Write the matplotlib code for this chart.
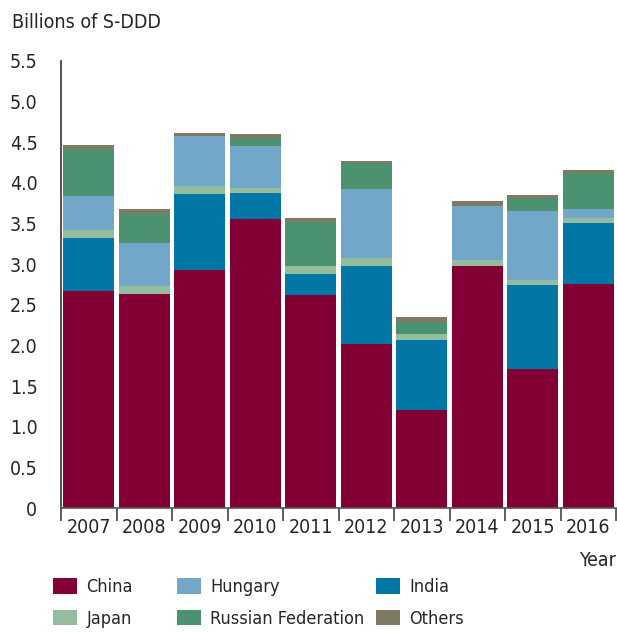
import numpy as np
import matplotlib
matplotlib.use("Agg")
import matplotlib.pyplot as plt
from matplotlib.patches import Patch

plt.rcParams['font.family'] = ['DejaVu Sans']
plt.rcParams['font.stretch'] = 'condensed'

years = ["2007", "2008", "2009", "2010", "2011", "2012", "2013", "2014", "2015", "2016"]
china = [2.67, 2.63, 2.93, 3.55, 2.62, 2.02, 1.21, 2.98, 1.71, 2.76]
india = [0.65, 0.00, 0.93, 0.32, 0.26, 0.96, 0.86, 0.00, 1.03, 0.75]
japan = [0.10, 0.10, 0.10, 0.07, 0.10, 0.10, 0.07, 0.07, 0.06, 0.06]
hungary = [0.42, 0.53, 0.62, 0.51, 0.00, 0.84, 0.00, 0.66, 0.85, 0.11]
russia = [0.58, 0.36, 0.00, 0.10, 0.54, 0.32, 0.15, 0.00, 0.17, 0.44]
others = [0.05, 0.06, 0.03, 0.05, 0.05, 0.03, 0.06, 0.07, 0.03, 0.04]

# stacking order bottom -> top
series = [
    ("China", china, "#820033"),
    ("India", india, "#0277A6"),
    ("Japan", japan, "#94BD9F"),
    ("Hungary", hungary, "#72A7CA"),
    ("Russian Federation", russia, "#4A9270"),
    ("Others", others, "#807A62"),
]
colors = {name: c for name, _, c in series}
txt = "#262626"

fig = plt.figure(figsize=(6.17, 6.33), dpi=100)
ax = fig.add_axes([61 / 617, 1 - 508 / 633, 555 / 617, 447 / 633])

x = np.arange(len(years))
bottom = np.zeros(len(years))
for name, vals, c in series:
    ax.bar(x, vals, bottom=bottom, width=0.92, color=c, linewidth=0)
    bottom += np.array(vals)

ax.set_ylim(0, 5.5)
ax.set_xlim(-0.5, len(years) - 0.5)
ax.set_yticks(np.arange(0, 5.51, 0.5))
ax.set_yticklabels(["0"] + [f"{v:.1f}" for v in np.arange(0.5, 5.51, 0.5)])
ax.tick_params(axis="y", length=0, pad=17, labelsize=14, colors=txt)
ax.set_xticks(x)
ax.set_xticklabels(years)
ax.tick_params(axis="x", length=0, pad=7, labelsize=14, colors=txt)
ax.set_xticks(np.arange(-0.5, len(years), 1), minor=True)
ax.tick_params(axis="x", which="minor", length=9, width=1.2, color="#444444")

for s in ["top", "right"]:
    ax.spines[s].set_visible(False)
ax.spines["left"].set_color("#333333")
ax.spines["bottom"].set_color("#555555")
ax.spines["left"].set_linewidth(1.2)
ax.spines["bottom"].set_linewidth(1.2)

fig.text(12 / 617, 1 - 22 / 633, "Billions of S-DDD", fontsize=14, color=txt,
         ha="left", va="center")
fig.text(616 / 617, 1 - 561 / 633, "Year", fontsize=14, color=txt,
         ha="right", va="center")

legend_cols = [
    (53, ["China", "Japan"]),
    (177, ["Hungary", "Russian Federation"]),
    (376, ["India", "Others"]),
]
for xpix, names in legend_cols:
    handles = [Patch(facecolor=colors[n], edgecolor="none", label=n) for n in names]
    leg = fig.legend(handles=handles, loc="upper left",
                     bbox_to_anchor=(xpix / 617, 1 - 578 / 633),
                     frameon=False, fontsize=13, borderpad=0, borderaxespad=0,
                     handlelength=1.35, handleheight=0.95, handletextpad=0.5,
                     labelspacing=0.75)
    for t in leg.get_texts():
        t.set_color(txt)

fig.savefig("out.png", dpi=100)
